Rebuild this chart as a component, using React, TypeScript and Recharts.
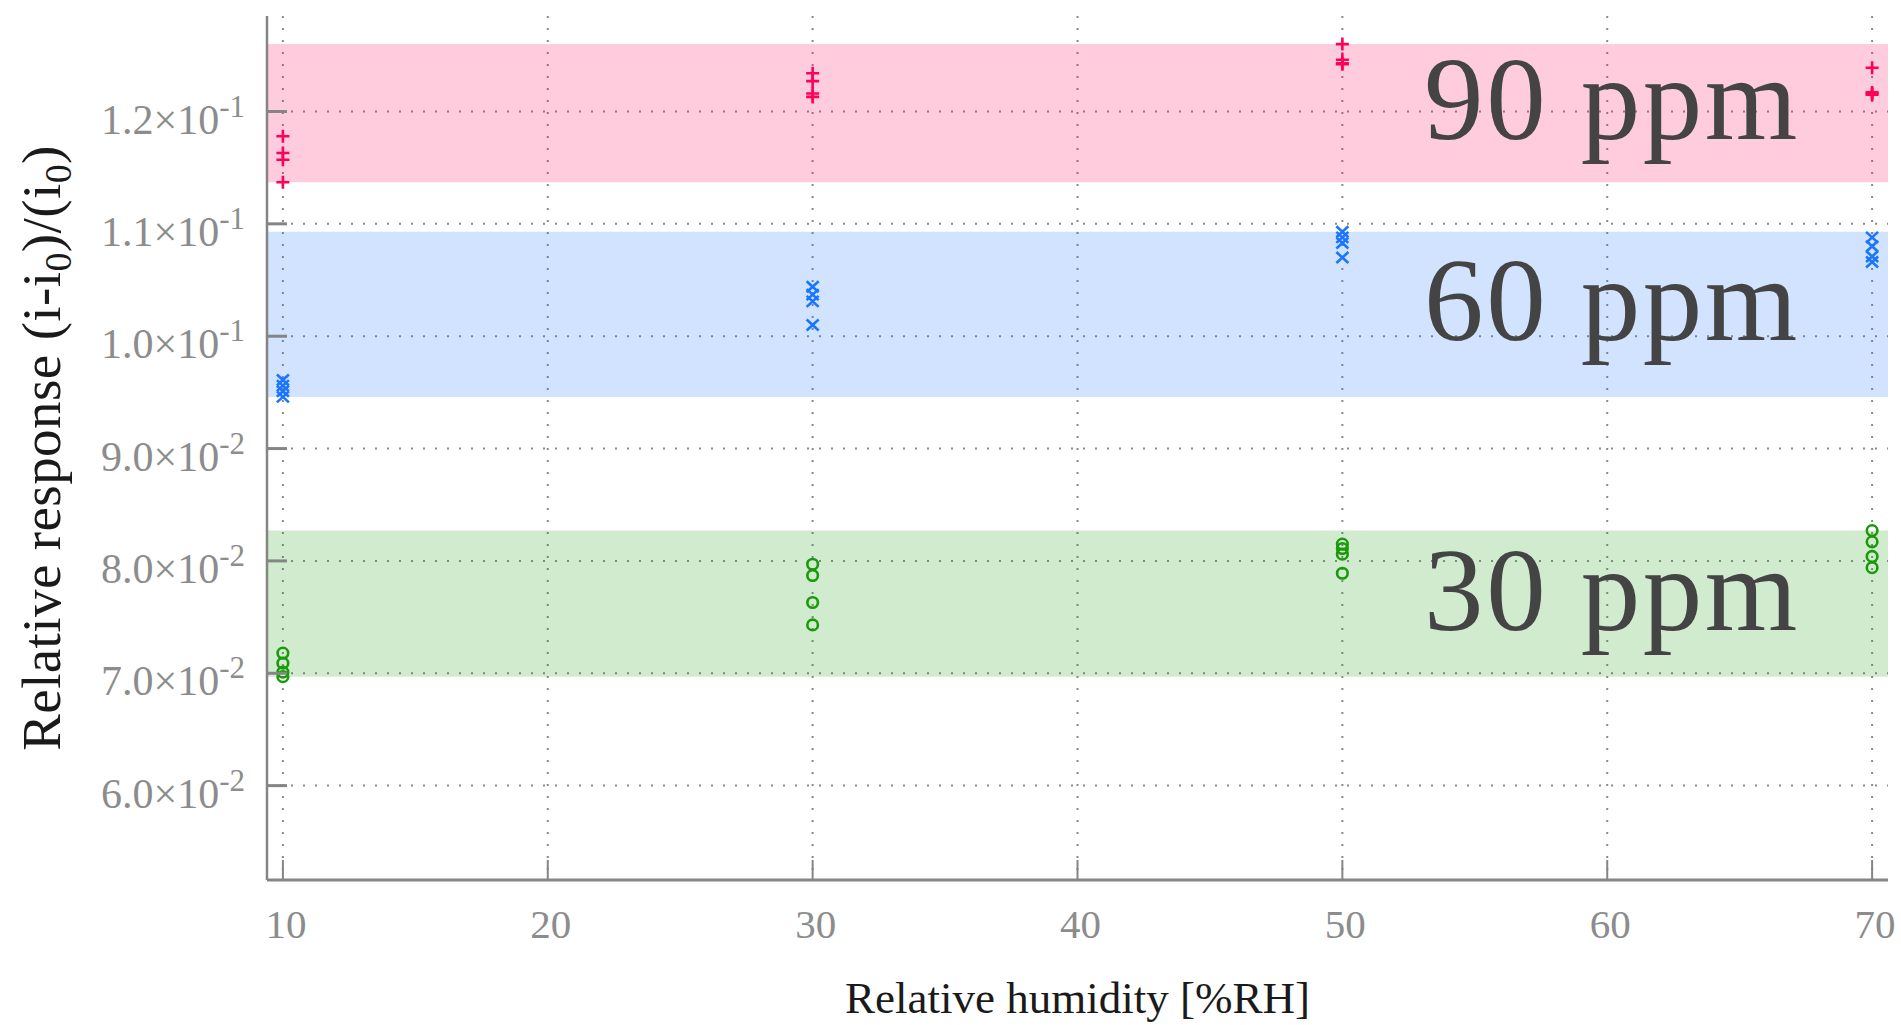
import React from 'react';
import { ScatterChart, Scatter, XAxis, YAxis, CartesianGrid, ReferenceArea } from 'recharts';

// ---- data ----
const humidity = [10, 30, 50, 70];
const xTicks = [10, 20, 30, 40, 50, 60, 70];
const yTicks = [0.06, 0.07, 0.08, 0.09, 0.1, 0.11, 0.12];
const xDomain = [9.4, 70.6];
const yDomain = [0.0516, 0.1285];

const ppm90 = [
  [0.1178, 0.1163, 0.1157, 0.1137],
  [0.1234, 0.1227, 0.1216, 0.1213],
  [0.126, 0.1246, 0.1243, 0.1242],
  [0.1239, 0.1217, 0.1215, 0.1216],
];
const ppm60 = [
  [0.0961, 0.0956, 0.0951, 0.0946],
  [0.1044, 0.1037, 0.1031, 0.101],
  [0.1093, 0.1088, 0.1083, 0.107],
  [0.1088, 0.108, 0.1071, 0.1066],
];
const ppm30 = [
  [0.0718, 0.0709, 0.0701, 0.0697],
  [0.0797, 0.0787, 0.0763, 0.0743],
  [0.0815, 0.0811, 0.0806, 0.0789],
  [0.0827, 0.0817, 0.0804, 0.0794],
];

const seriesNames = ['90 ppm', '60 ppm', '30 ppm'];
const seriesColors = ['#ff005a', '#1a75ff', '#1a9a0a'];
const seriesValues = [ppm90, ppm60, ppm30];

const toPoints = (vals: number[][]) =>
  humidity.flatMap((h, i) => vals[i].map((v) => ({ x: h, y: v })));

const seriesData = seriesValues.map(toPoints);
const bands = seriesValues.map((vals) => {
  const all = vals.flat();
  return [Math.min(...all), Math.max(...all)];
});

// ---- styles ----
const SERIF = '"Liberation Serif", "DejaVu Serif", serif';
const AXIS_GRAY = '#858585';
const TICK_GRAY = '#8c8c8c';

const fmtExp = (v: number) => {
  const e = Math.floor(Math.log10(v) + 1e-9);
  const m = v / Math.pow(10, e);
  return { mant: m.toFixed(1), exp: String(e) };
};

const YTick = (props: any) => {
  const { x, y, payload } = props;
  const { mant, exp } = fmtExp(payload.value);
  return (
    <g>
      <line x1={x} x2={x + 20} y1={y} y2={y} stroke={AXIS_GRAY} strokeWidth={3} />
      <text x={x - 22} y={y + 22} textAnchor="end" fill={TICK_GRAY} fontFamily={SERIF} fontSize={42}>
        <tspan>{mant}×10</tspan>
        <tspan dy={-17} fontSize={31}>{exp}</tspan>
      </text>
    </g>
  );
};

const XTick = (props: any) => {
  const { x, y, payload } = props;
  return (
    <g>
      <line x1={x} x2={x} y1={y} y2={y - 20} stroke={AXIS_GRAY} strokeWidth={2} />
      <text x={x + 3} y={y + 58} textAnchor="middle" fill={TICK_GRAY} fontFamily={SERIF} fontSize={41}>
        {payload.value}
      </text>
    </g>
  );
};

const plusShape = (color: string) => (p: any) => (
  <path
    d={`M${p.cx - 6.5},${p.cy}h13M${p.cx},${p.cy - 6.5}v13`}
    stroke={color}
    strokeWidth={2.6}
    fill="none"
  />
);
const crossShape = (color: string) => (p: any) => (
  <path
    d={`M${p.cx - 6},${p.cy - 5.5}L${p.cx + 6},${p.cy + 5.5}M${p.cx - 6},${p.cy + 5.5}L${p.cx + 6},${p.cy - 5.5}`}
    stroke={color}
    strokeWidth={2.6}
    fill="none"
  />
);
const circleShape = (color: string) => (p: any) => (
  <circle cx={p.cx} cy={p.cy} r={5.3} stroke={color} strokeWidth={2.6} fill="none" />
);
const shapes = [plusShape, crossShape, circleShape];

const bandLabel = (text: string) => (props: any) => {
  const vb = props.viewBox || {};
  return (
    <text
      x={vb.x + vb.width - 88}
      y={vb.y + vb.height / 2 + 26}
      textAnchor="end"
      fill="#444444"
      fontFamily={SERIF}
      fontSize={119}
      letterSpacing={2.6}
    >
      {text}
    </text>
  );
};

const XTitle = (props: any) => {
  const vb = props.viewBox || {};
  return (
    <text
      x={vb.x + vb.width / 2}
      y={vb.y + 133}
      textAnchor="middle"
      fill="#1a1a1a"
      fontFamily={SERIF}
      fontSize={45}
    >
      Relative humidity [%RH]
    </text>
  );
};

const YTitle = (props: any) => {
  const vb = props.viewBox || {};
  const cx = 60;
  const cy = vb.y + vb.height / 2;
  return (
    <text
      x={cx}
      y={cy}
      transform={`rotate(-90, ${cx}, ${cy})`}
      textAnchor="middle"
      fill="#1a1a1a"
      fontFamily={SERIF}
      fontSize={55}
      letterSpacing={0.4}
    >
      <tspan>Relative response (i-i</tspan>
      <tspan dy={11} fontSize={38}>0</tspan>
      <tspan dy={-11}>)/(i</tspan>
      <tspan dy={11} fontSize={38}>0</tspan>
      <tspan dy={-11}>)</tspan>
    </text>
  );
};

export default function App() {
  return (
    <div style={{ position: 'absolute', left: 0, top: 0, background: '#fff' }}>
      <ScatterChart width={1901} height={1025} margin={{ top: 16, right: 13, bottom: 0, left: 0 }}>
        <CartesianGrid stroke="#8a8a8a" strokeWidth={2} strokeDasharray="2 10" syncWithTicks />
        <XAxis
          type="number"
          dataKey="x"
          domain={xDomain}
          ticks={xTicks}
          allowDataOverflow
          height={145}
          tickSize={0}
          tickMargin={0}
          tickLine={false}
          axisLine={{ stroke: AXIS_GRAY, strokeWidth: 3 }}
          tick={<XTick />}
          label={{ content: XTitle }}
        />
        <YAxis
          type="number"
          dataKey="y"
          domain={yDomain}
          ticks={yTicks}
          allowDataOverflow
          width={267}
          tickSize={0}
          tickMargin={0}
          tickLine={false}
          axisLine={{ stroke: AXIS_GRAY, strokeWidth: 2.5 }}
          tick={<YTick />}
          label={{ content: YTitle }}
        />
        {bands.map((b, i) => (
          <ReferenceArea
            key={seriesNames[i]}
            y1={b[0]}
            y2={b[1]}
            fill={seriesColors[i]}
            fillOpacity={0.2}
            stroke="none"
            label={{ content: bandLabel(seriesNames[i]) }}
          />
        ))}
        {seriesData.map((d, i) => (
          <Scatter
            key={seriesNames[i]}
            name={seriesNames[i]}
            data={d}
            shape={shapes[i](seriesColors[i])}
            isAnimationActive={false}
          />
        ))}
      </ScatterChart>
    </div>
  );
}
